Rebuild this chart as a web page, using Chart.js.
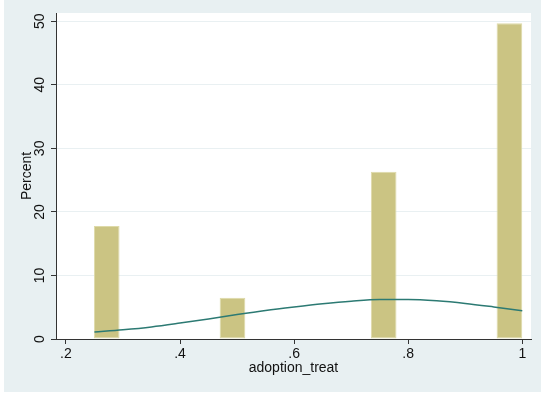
<!DOCTYPE html>
<html>
<head>
<meta charset="utf-8">
<script src="https://cdn.jsdelivr.net/npm/chart.js@4"></script>
<style>
  html, body { margin: 0; padding: 0; background: #fff; }
  #wrap { width: 541px; height: 393px; }
</style>
</head>
<body>
<div id="wrap"><canvas id="myChart" width="541" height="393"></canvas></div>
<script>
// histogram bins (centre of each bar) and their percent
var binCenters = [0.2715, 0.492, 0.757, 0.9775];
var binPercent = [17.8, 6.5, 26.3, 49.7];
var binWidth = 0.045;

// normal density overlay
var curveX = [0.25, 0.30, 0.35, 0.40, 0.45, 0.50, 0.55, 0.60, 0.65, 0.70, 0.75, 0.80, 0.85, 0.90, 0.95, 1.00];
var curveY = [1.1, 1.45, 1.9, 2.5, 3.15, 3.85, 4.5, 5.05, 5.55, 5.95, 6.2, 6.2, 6.0, 5.6, 5.05, 4.45];

var xTicks = [0.2, 0.4, 0.6, 0.8, 1];
var yTicks = [0, 10, 20, 30, 40, 50];

var FONT = "'Liberation Sans', Arial, Helvetica, sans-serif";

// bar width: Chart.js sizes bars from the smallest gap (points or ticks)
var minGap = 0.2;
for (var i = 1; i < binCenters.length; i++) {
	minGap = Math.min(minGap, binCenters[i] - binCenters[i - 1]);
}

var background = {
	id : 'background',
	beforeDraw : function(chart) {
		var ctx = chart.ctx, a = chart.chartArea;
		ctx.save();
		ctx.fillStyle = '#ffffff';
		ctx.fillRect(0, 0, chart.width, chart.height);
		ctx.fillStyle = '#e8f0f2';
		ctx.fillRect(4, 0, chart.width - 4, chart.height - 1);
		ctx.fillStyle = '#ffffff';
		ctx.fillRect(a.left, a.top, a.right - a.left, a.bottom - a.top);
		ctx.restore();
	}
};

// y tick labels are rotated (read bottom to top), like Stata
var yLabels = {
	id : 'yLabels',
	afterDraw : function(chart) {
		var ctx = chart.ctx, y = chart.scales.y;
		ctx.save();
		ctx.fillStyle = '#111';
		ctx.font = '14px ' + FONT;
		ctx.textAlign = 'center';
		ctx.textBaseline = 'middle';
		yTicks.forEach(function(v) {
			ctx.save();
			ctx.translate(40, y.getPixelForValue(v));
			ctx.rotate(-Math.PI / 2);
			ctx.fillText(String(v), 0, 0);
			ctx.restore();
		});
		ctx.restore();
	}
};

var chart = new Chart("myChart", {
	type : 'bar',
	data : {
		datasets : [ {
			type : 'line',
			data : curveX.map(function(x, i) { return { x : x, y : curveY[i] }; }),
			borderColor : '#2c7a73',
			borderWidth : 1.5,
			pointRadius : 0,
			cubicInterpolationMode : 'monotone',
			fill : false,
			order : 0
		}, {
			data : binCenters.map(function(x, i) { return { x : x, y : binPercent[i] }; }),
			backgroundColor : '#cbc483',
			borderColor : '#dedaa8',
			borderWidth : 1,
			borderSkipped : false,
			categoryPercentage : 1,
			barPercentage : binWidth / minGap,
			grouped : false,
			order : 1
		} ]
	},
	options : {
		responsive : false,
		animation : false,
		layout : { padding : { top : 13, right : 10, left : 0, bottom : 0 } },
		plugins : {
			legend : { display : false },
			tooltip : { enabled : false }
		},
		scales : {
			x : {
				type : 'linear',
				min : 0.1826,
				max : 1.0153,
				offset : false,
				afterBuildTicks : function(s) { s.ticks = xTicks.map(function(v) { return { value : v }; }); },
				afterFit : function(s) { s.height = 54; },
				ticks : {
					color : '#111',
					font : { family : FONT, size : 14 },
					padding : 2,
					maxRotation : 0,
					callback : function(v) { return v === 1 ? '1' : String(+v.toFixed(1)).replace('0.', '.'); }
				},
				grid : {
					offset : false,
					drawOnChartArea : false,
					tickLength : 5,
					tickColor : '#333'
				},
				border : { color : '#333', width : 1 },
				title : {
					display : true,
					text : 'adoption_treat',
					color : '#111',
					font : { family : FONT, size : 14 },
					padding : { top : 0, bottom : 16 }
				}
			},
			y : {
				min : 0,
				max : 51.3,
				afterBuildTicks : function(s) { s.ticks = yTicks.map(function(v) { return { value : v }; }); },
				afterFit : function(s) { s.width = 56; },
				ticks : { display : false },
				grid : {
					color : function(c) { return c.tick && c.tick.value === 0 ? 'rgba(0,0,0,0)' : '#e9f0f2'; },
					tickLength : 5,
					tickColor : '#333'
				},
				border : { color : '#333', width : 1 },
				title : {
					display : true,
					text : 'Percent',
					color : '#111',
					font : { family : FONT, size : 14 },
					padding : { top : 19, bottom : 0 }
				}
			}
		}
	},
	plugins : [ background, yLabels ]
});
</script>
</body>
</html>
